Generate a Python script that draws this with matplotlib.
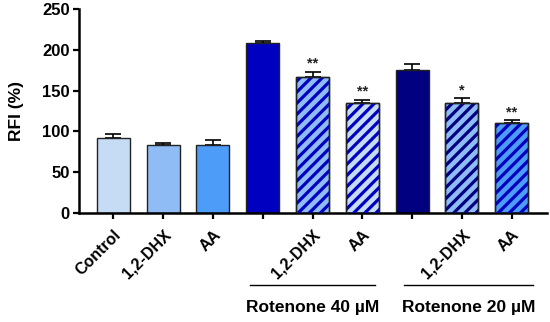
import matplotlib

matplotlib.use("Agg")
import matplotlib.pyplot as plt
import numpy as np

# --- data --------------------------------------------------------------------
labels = ["Control", "1,2-DHX", "AA", "", "1,2-DHX", "AA", "", "1,2-DHX", "AA"]
means = [91.5, 83.5, 83.5, 208, 167, 135, 175, 134.5, 110]
errs = [5, 2.5, 6, 3, 6, 3.5, 8, 6, 3.5]
stars = ["", "", "", "", "**", "**", "", "*", "**"]
groups = ["Rotenone 40 \u00b5M", "Rotenone 20 \u00b5M"]

# face / hatch colours per bar (None = no hatch)
faces = ["#c6dcf5", "#8fbcf5", "#4d9cf8", "#0000c0", "#8fbcf5", "#c6dcf5",
         "#000080", "#8fbcf5", "#4d9cf8"]
hatch_cols = [None, None, None, None, "#0000c0", "#0000c0", None, "#000080", "#0000c0"]

plt.rcParams["font.family"] = ["Liberation Sans", "DejaVu Sans"]
plt.rcParams["font.weight"] = "bold"
plt.rcParams["hatch.linewidth"] = 2.3

fig = plt.figure(figsize=(5.5, 3.22), dpi=100)
ax = fig.add_axes([0.1436, 0.3385, 0.851, 0.633])

x = np.arange(len(means))
for i in x:
    ax.bar(i, means[i], width=0.66, color=faces[i], edgecolor="#222222",
           linewidth=1.0, zorder=2)
    if hatch_cols[i] is not None:
        ax.bar(i, means[i], width=0.66, color="none", edgecolor=hatch_cols[i],
               hatch="///", linewidth=0, zorder=3)
        ax.bar(i, means[i], width=0.66, color="none", edgecolor="#222222",
               linewidth=1.0, zorder=4)
ax.errorbar(x, means, yerr=[np.zeros(len(errs)), errs], fmt="none",
            ecolor="black", elinewidth=1.2, capsize=5.8, capthick=1.2, zorder=1)

for i, s in enumerate(stars):
    if s:
        ax.text(i, means[i] + errs[i] + 1.5, s, ha="center", va="bottom",
                fontsize=10.5, fontweight="bold", color="#222222")

ax.set_xlim(-0.69, 8.71)
ax.set_ylim(0, 250)
ax.set_yticks([0, 50, 100, 150, 200, 250])
ax.set_xticks(x)
ax.set_xticklabels(labels, rotation=45, ha="right", rotation_mode="anchor",
                   fontsize=11.5, fontweight="bold")
ax.tick_params(axis="both", direction="out", length=4.5, width=1.6, labelsize=12)
ax.tick_params(axis="x", pad=6, labelsize=11.5)
ax.tick_params(axis="y", pad=2)
ax.set_ylabel("RFI (%)", fontsize=12.5, fontweight="bold", labelpad=13)

for side in ("top", "right"):
    ax.spines[side].set_visible(False)
for side in ("left", "bottom"):
    ax.spines[side].set_linewidth(1.8)

# group brackets below the tick labels
for (x0, x1), name in zip([(2.74, 5.26), (5.84, 8.43)], groups):
    ax.plot([x0, x1], [-88, -88], color="black", lw=1.0, clip_on=False)
    ax.text((x0 + x1) / 2, -116, name, ha="center", va="center",
            fontsize=12.5, fontweight="bold")

fig.savefig("out.png", dpi=100)
